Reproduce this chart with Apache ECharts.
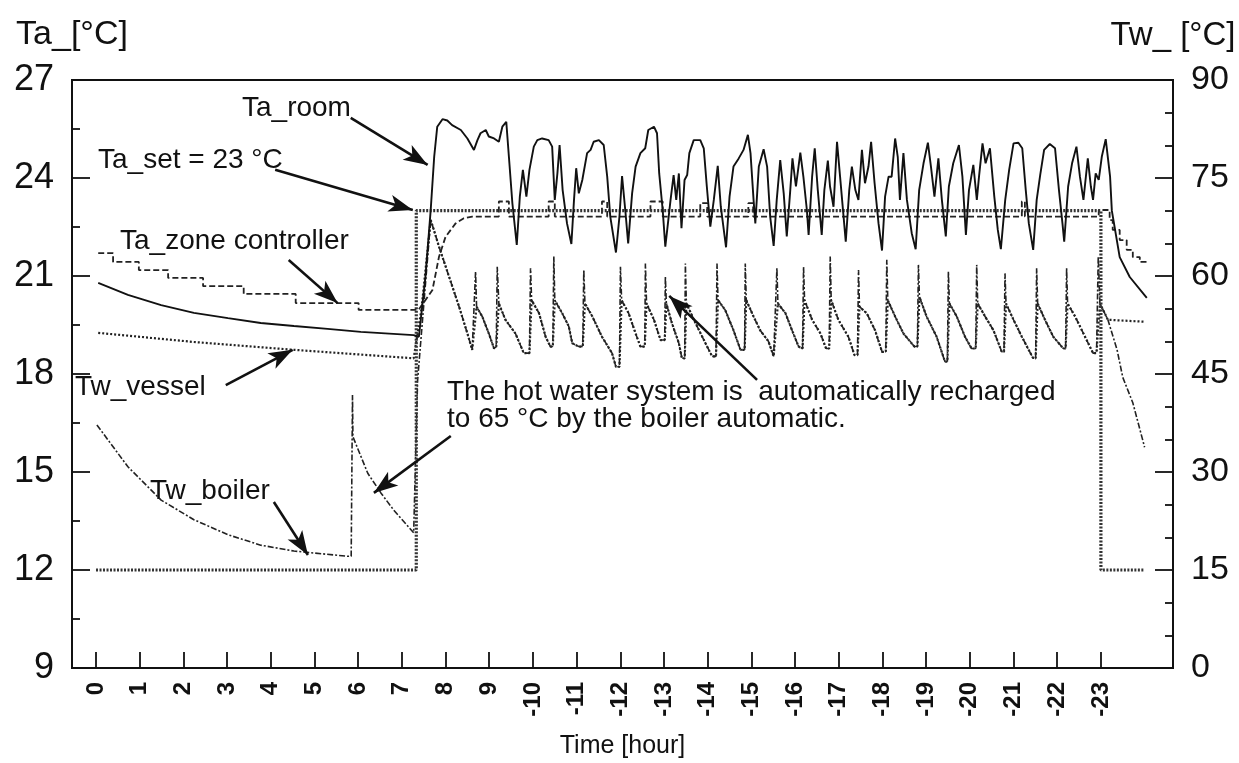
<!DOCTYPE html>
<html><head><meta charset="utf-8">
<script src="https://cdn.jsdelivr.net/npm/echarts@6/dist/echarts.min.js"></script>
<style>html,body{margin:0;padding:0;background:#fff}#c{width:1239px;height:763px}</style>
</head><body><div id="c"></div>
<script>
// ---- tick labels ----
const hourTicks = [0,1,2,3,4,5,6,7,8,9,10,11,12,13,14,15,16,17,18,19,20,21,22,23];
const hourLabels = ["0","1","2","3","4","5","6","7","8","9","-10","-11","-12","-13","-14","-15","-16","-17","-18","-19","-20","-21","-22","-23"];

// ---- Ta series (left axis, °C) [hour, value] ----
const taSet = [[0,12],[7.33,12],[7.33,23],[23.0,23],[23.0,12],[24.0,12]];

const taZone = [[0.05,21.70],[0.39,21.70],[0.39,21.43],[0.98,21.43],[0.98,21.18],[1.65,21.18],[1.65,20.94],[2.45,20.94],[2.45,20.69],[3.38,20.69],[3.38,20.45],[4.57,20.45],[4.57,20.17],[6.01,20.17],[6.01,19.96],[7.38,19.96],
 [7.70,20.57],[7.85,21.59],[8.00,22.2],[8.23,22.61],[8.42,22.77],[8.61,22.82],
 [9.22,22.82],[9.22,23.28],[9.45,23.28],[9.45,22.82],[10.36,22.82],[10.36,23.28],[10.50,23.28],[10.50,22.82],[11.58,22.82],[11.58,23.28],[11.70,23.28],[11.70,22.82],[12.69,22.82],[12.69,23.28],[12.97,23.28],[12.97,22.82],[13.83,22.82],[13.83,23.23],[13.99,23.23],[13.99,22.82],[14.93,22.82],[14.93,23.23],[15.04,23.23],[15.04,22.82],[21.19,22.82],[21.19,23.28],[21.26,23.28],[21.26,22.82],[22.95,22.82],[22.95,23.02],
 [23.2,23.02],[23.2,22.71],[23.27,22.71],[23.27,22.41],[23.43,22.41],[23.43,22.1],[23.59,22.1],[23.59,21.8],[23.73,21.8],[23.73,21.58],[23.89,21.58],[23.89,21.43],[24.05,21.43]];

const taRoom = [[0.05,20.79],[0.73,20.42],[1.49,20.11],[2.24,19.87],[3.02,19.71],[3.77,19.56],[4.53,19.47],[5.30,19.38],[6.06,19.29],[7.27,19.19],
 [7.39,19.14],[7.54,20.98],[7.66,23.02],[7.74,24.65],[7.81,25.57],[7.93,25.80],[8.04,25.76],[8.15,25.62],[8.35,25.47],[8.50,25.21],[8.65,24.86],[8.73,25.16],[8.80,25.37],[8.92,25.47],[8.99,25.27],[9.11,25.21],[9.22,25.11],[9.30,25.57],[9.39,25.72],[9.45,24.65],[9.53,23.22],[9.63,21.95],[9.70,23.43],[9.77,24.25],[9.85,23.43],[9.92,24.25],[10.02,24.96],[10.10,25.16],[10.21,25.21],[10.36,25.16],[10.44,24.96],[10.50,23.33],[10.56,24.14],[10.61,25.01],[10.68,23.63],[10.78,22.61],[10.88,21.98],[10.94,23.33],[10.99,24.30],[11.05,23.53],[11.13,23.94],[11.24,24.76],[11.32,24.86],[11.39,25.11],[11.51,25.16],[11.62,25.01],[11.70,24.04],[11.77,22.82],[11.90,21.72],[11.98,22.82],[12.04,24.06],[12.12,22.92],[12.18,22.0],[12.27,23.53],[12.35,24.35],[12.46,24.76],[12.57,24.91],[12.64,25.47],[12.77,25.57],[12.84,25.37],[12.89,24.14],[12.97,23.02],[13.03,21.9],[13.09,22.61],[13.15,23.33],[13.22,24.09],[13.28,23.33],[13.34,24.14],[13.40,22.46],[13.47,23.94],[13.53,24.09],[13.58,24.76],[13.68,25.16],[13.83,25.16],[13.91,24.91],[13.98,23.74],[14.06,22.51],[14.14,23.33],[14.23,24.37],[14.30,23.12],[14.42,21.88],[14.50,23.43],[14.59,24.35],[14.71,24.6],[14.82,24.86],[14.92,25.32],[14.98,24.76],[15.05,23.33],
 [15.09,22.61],[15.17,24.35],[15.28,24.88],[15.36,24.35],[15.43,22.82],[15.51,21.92],[15.58,23.33],[15.66,24.55],[15.74,23.53],[15.81,22.21],[15.89,23.63],[15.94,24.6],[16.02,23.74],[16.12,24.78],[16.19,24.04],[16.27,23.02],[16.31,22.26],[16.39,24.04],[16.45,24.91],[16.52,23.63],[16.61,22.26],[16.67,23.63],[16.75,24.53],[16.80,23.74],[16.88,23.12],[16.96,25.11],[17.03,24.04],[17.11,22.82],[17.16,22.05],[17.24,23.63],[17.30,24.35],[17.38,23.63],[17.45,23.33],[17.53,24.86],[17.60,23.84],[17.68,24.35],[17.74,25.11],[17.82,23.84],[17.91,22.61],[17.99,21.78],[18.06,23.43],[18.14,24.04],[18.21,24.04],[18.29,25.21],[18.35,24.65],[18.40,23.33],[18.48,24.76],[18.56,23.33],[18.67,22.31],[18.76,21.82],[18.84,23.63],[18.94,24.45],[19.04,25.08],[19.11,24.35],[19.19,23.43],[19.28,24.6],[19.36,23.33],[19.45,22.21],[19.52,23.74],[19.62,24.45],[19.75,25.01],[19.83,24.04],[19.91,22.26],[19.98,23.63],[20.08,24.4],[20.16,23.33],[20.21,24.04],[20.29,25.06],[20.36,24.45],[20.46,24.91],[20.56,23.43],[20.64,22.41],[20.71,21.82],[20.81,23.33],[20.90,24.25],[21.00,25.06],[21.11,25.08],[21.20,24.91],[21.28,23.63],[21.35,22.61],[21.45,21.8],[21.53,23.33],[21.61,24.09],[21.70,24.86],[21.83,25.04],[21.95,24.91],[22.04,23.63],[22.12,22.61],[22.16,22.05],[22.25,23.74],[22.34,24.45],[22.44,24.96],[22.52,24.04],[22.60,23.33],[22.70,24.6],[22.77,23.74],[22.82,23.33],[22.88,24.14],[22.95,23.94],[23.02,24.65],[23.11,25.19],[23.21,24.04],
 [23.25,23.0],[23.43,21.58],[23.66,20.97],[24.05,20.33]];

// ---- Tw series (right axis, °C) [hour, value] ----
const twVesselNight = [[0.05,51.3],[2.24,49.9],[4.53,48.7],[7.27,47.4],[7.30,47.4],[7.45,55.0]];
const twBoilerNight = [[0.02,37.2],[0.73,30.8],[1.49,25.7],[2.24,22.7],[3.02,20.4],[3.77,18.8],[4.53,17.9],[5.76,17.1],[5.84,17.1],[5.87,41.8],[5.88,35.4],[6.22,29.8],[6.52,26.8],[6.81,24.2],[7.27,20.7],[7.30,20.7],[7.36,44.0]];
const twHeatCommon = [[7.66,68.6],[7.85,64.5],[8.08,59.9],[8.31,55.3],[8.50,51.2],[8.61,48.7],
 [8.65,48.7],[8.71,55.3],[8.84,53.8],[8.99,51.2],[9.11,48.9],
 [9.16,49.2],[9.22,55.8],[9.37,53.3],[9.60,51.2],[9.79,48.2],
 [9.92,48.2],[9.97,56.3],[10.14,54.3],[10.29,50.7],[10.40,49.2],
 [10.455,49.2],[10.50,56.3],[10.67,54.3],[10.82,52.3],[10.90,49.7],[11.05,49.2],
 [11.14,49.2],[11.19,55.8],[11.36,53.8],[11.58,50.7],[11.81,48.2],[11.90,46.1],
 [11.98,46.1],[12.03,56.3],[12.19,54.3],[12.35,51.2],[12.46,49.2],
 [12.56,49.2],[12.60,55.8],[12.77,53.3],[12.92,50.2],
 [13.016,50.2],[13.054,55.8],[13.18,52.8],[13.34,49.7],[13.41,47.4],
 [13.474,47.4],[13.512,55.8],[13.72,52.8],[13.95,49.7],[14.10,47.7],
 [14.19,47.7],[14.236,56.3],[14.40,54.8],[14.59,51.7],[14.75,48.7],
 [14.845,48.7],[14.883,56.3],[15.05,53.8],[15.20,51.7],[15.39,50.0],[15.51,47.7],
 [15.546,47.7],[15.607,55.8],[15.78,54.3],[15.93,51.7],[16.08,49.2],
 [16.171,48.9],[16.217,56.3],[16.39,53.3],[16.58,51.2],[16.71,48.9],
 [16.781,48.9],[16.827,56.3],[16.99,53.3],[17.22,50.7],[17.36,47.9],
 [17.429,47.9],[17.474,55.3],[17.64,54.3],[17.83,51.7],[17.99,48.4],
 [18.076,48.4],[18.122,56.3],[18.29,53.8],[18.48,51.2],[18.73,49.2],
 [18.80,49.2],[18.846,56.8],[19.01,53.8],[19.24,50.7],[19.43,46.9],
 [19.486,46.9],[19.532,55.8],[19.70,53.8],[19.89,50.7],[20.04,48.9],
 [20.134,48.9],[20.18,55.8],[20.35,53.8],[20.54,51.7],[20.73,48.4],
 [20.782,48.4],[20.828,55.8],[21.00,53.3],[21.19,50.7],[21.45,47.4],
 [21.506,47.4],[21.552,55.8],[21.72,53.3],[21.91,50.7],[22.14,48.9],
 [22.192,48.9],[22.237,55.8],[22.41,53.8],[22.60,51.2],[22.82,48.2],
 [22.90,48.2],[22.977,55.8]];
const twBoilerSpikes = [[8.687,60.7],[9.183,61.4],[9.945,61.2],[10.478,63.0],[11.164,60.9],[12.003,61.4],[12.574,61.9],[13.031,59.9],[13.489,61.9],[14.213,61.9],[14.86,61.9],[15.584,61.2],[16.194,61.4],[16.804,63.0],[17.452,60.9],[18.099,62.5],[18.823,61.7],[19.509,60.7],[20.157,61.7],[20.805,60.4],[21.529,61.2],[22.215,61.2],[22.939,63.0]];
const twVesselEnd = [[23.16,53.3],[24.0,53.0]];
const twBoilerEnd = [[23.16,53.3],[23.37,48.7],[23.5,44.5],[23.73,40.6],[24.0,33.8]];

const byHour = (a,b)=>a[0]-b[0];
const twVessel = twVesselNight.concat(twHeatCommon, twVesselEnd);
const twBoiler = twBoilerNight.concat(twHeatCommon.concat(twBoilerSpikes).sort(byHour), twBoilerEnd);

// ---- annotation arrows (in Ta-axis data units) [from, to] ----
const arrows = [
 [[5.83,25.84],[7.59,24.40]],
 [[4.10,24.25],[7.25,23.02]],
 [[4.41,21.49],[5.53,20.17]],
 [[2.97,17.66],[4.50,18.74]],
 [[4.07,14.08],[4.85,12.46]],
 [[8.12,16.10],[6.36,14.36]],
 [[15.13,17.82],[13.12,20.39]]
];

const FONT = "'Liberation Sans', Arial, Helvetica, sans-serif";
const chart = echarts.init(document.getElementById('c'));
const ink = '#111';
const txt = (t, x, y, size) => ({type:'text', left:x, top:y, style:{text:t, font:`${size}px ${FONT}`, fill:ink}});

chart.setOption({
  animation:false,
  backgroundColor:'#fff',
  grid:{left:72, right:66, top:80, bottom:95, outerBoundsMode:'none', containLabel:false, show:true, borderColor:ink, borderWidth:2, backgroundColor:'transparent'},
  xAxis:{type:'value', min:-0.55, max:24.65,
    axisLine:{onZero:false, lineStyle:{color:ink, width:2}},
    axisTick:{inside:true, length:16, customValues:hourTicks, lineStyle:{color:ink, width:1.8}},
    axisLabel:{customValues:hourTicks, rotate:90, margin:14, color:ink, fontSize:24, fontWeight:'bold', fontFamily:FONT,
      formatter:(v)=>hourLabels[Math.round(v)]},
    splitLine:{show:false},
    name:'Time [hour]', nameLocation:'middle', nameGap:66, nameTextStyle:{fontSize:25, color:ink, fontFamily:FONT}},
  yAxis:[
    {type:'value', min:9, max:27, interval:3, position:'left',
     axisLine:{show:true, onZero:false, lineStyle:{color:ink, width:2}},
     axisTick:{inside:true, length:18, lineStyle:{color:ink, width:1.8}},
     minorTick:{show:true, splitNumber:2, length:8, lineStyle:{color:ink, width:1.8}},
     axisLabel:{margin:18, color:ink, fontSize:36, fontFamily:FONT},
     splitLine:{show:false},
     name:'Ta_[°C]', nameLocation:'end', nameGap:28, nameTextStyle:{fontSize:34, color:ink, fontFamily:FONT, align:'center'}},
    {type:'value', min:0, max:90, interval:15, position:'right',
     axisLine:{show:true, onZero:false, lineStyle:{color:ink, width:2}},
     axisTick:{inside:true, length:18, lineStyle:{color:ink, width:1.8}},
     minorTick:{show:true, splitNumber:3, length:8, lineStyle:{color:ink, width:1.8}},
     axisLabel:{margin:18, color:ink, fontSize:34, fontFamily:FONT},
     splitLine:{show:false},
     name:'Tw_ [°C]', nameLocation:'end', nameGap:28, nameTextStyle:{fontSize:33, color:ink, fontFamily:FONT, align:'center'}}
  ],
  series:[
    {name:'Tw_vessel', type:'line', yAxisIndex:1, data:twVessel, showSymbol:false, lineStyle:{color:'#222', width:2.2, type:[2,2]}, z:2},
    {name:'Tw_boiler', type:'line', yAxisIndex:1, data:twBoiler, showSymbol:false, lineStyle:{color:'#222', width:1.6, type:[6,2,2,2]}, z:2},
    {name:'Ta_zone controller', type:'line', yAxisIndex:0, data:taZone, showSymbol:false, lineStyle:{color:'#222', width:1.8, type:[6,3]}, z:3},
    {name:'Ta_set', type:'line', yAxisIndex:0, data:taSet, showSymbol:false, lineStyle:{color:'#333', width:3.2, type:[2,1.5]}, z:3,
     markLine:{silent:true, symbol:['none','arrow'], symbolSize:[13,24], label:{show:false},
       lineStyle:{color:ink, width:2.6, type:'solid'},
       data:arrows.map(a=>[{coord:a[0]},{coord:a[1]}])}},
    {name:'Ta_room', type:'line', yAxisIndex:0, data:taRoom, showSymbol:false, lineStyle:{color:ink, width:1.9}, z:4}
  ],
  graphic:[
    txt('Ta_room', 242, 94, 28),
    txt('Ta_set = 23 °C', 98, 146, 28),
    txt('Ta_zone controller', 120, 227, 28),
    txt('Tw_vessel', 75, 373, 28),
    txt('Tw_boiler', 150, 477, 28),
    txt('The hot water system is  automatically recharged', 447, 378, 28),
    txt('to 65 °C by the boiler automatic.', 447, 405, 28)
  ]
});
</script></body></html>
